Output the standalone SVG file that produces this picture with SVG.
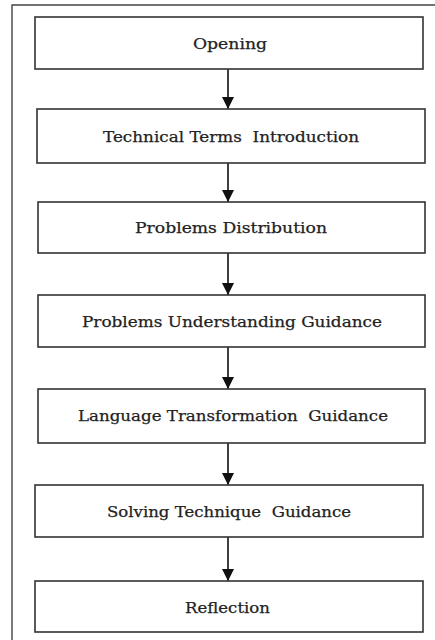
<svg xmlns="http://www.w3.org/2000/svg" width="435" height="640" viewBox="0 0 435 640">
<style>
.box{fill:#fff;stroke:#333;stroke-width:1.6}
.lbl{font-family:'DejaVu Serif','Liberation Serif',serif;font-size:15.5px;fill:#222;stroke:#222;stroke-width:0.25;text-anchor:middle}
.conn{stroke:#111;stroke-width:1.6;fill:none}
.frame{stroke:#444;stroke-width:1.4;fill:none}
</style>
<defs>
<marker id="ah" markerWidth="12" markerHeight="12" refX="12" refY="6" orient="auto" markerUnits="userSpaceOnUse">
<path d="M0,0 L12,6 L0,12 Z" fill="#111"/>
</marker>
</defs>
<rect width="435" height="640" fill="#fff"/>
<path class="frame" d="M12,640 V5 H435"/>
<g id="connectors">
<line class="conn" x1="228" y1="69" x2="228" y2="109" marker-end="url(#ah)"/>
<line class="conn" x1="228" y1="163" x2="228" y2="202" marker-end="url(#ah)"/>
<line class="conn" x1="228" y1="253" x2="228" y2="295" marker-end="url(#ah)"/>
<line class="conn" x1="228" y1="347" x2="228" y2="389" marker-end="url(#ah)"/>
<line class="conn" x1="228" y1="443" x2="228" y2="485" marker-end="url(#ah)"/>
<line class="conn" x1="228" y1="537" x2="228" y2="581" marker-end="url(#ah)"/>
</g>
<g id="n1"><rect class="box" x="35" y="17" width="388" height="52"/><text class="lbl" x="230" y="48.5" textLength="74" lengthAdjust="spacingAndGlyphs">Opening</text></g>
<g id="n2"><rect class="box" x="37" y="109" width="388" height="54"/><text class="lbl" x="231" y="142" textLength="256" lengthAdjust="spacingAndGlyphs" xml:space="preserve">Technical Terms  Introduction</text></g>
<g id="n3"><rect class="box" x="38" y="202" width="387" height="51"/><text class="lbl" x="231" y="233" textLength="192" lengthAdjust="spacingAndGlyphs">Problems Distribution</text></g>
<g id="n4"><rect class="box" x="38" y="295" width="387" height="52"/><text class="lbl" x="232" y="326.5" textLength="300" lengthAdjust="spacingAndGlyphs">Problems Understanding Guidance</text></g>
<g id="n5"><rect class="box" x="38" y="389" width="387" height="54"/><text class="lbl" x="233" y="421" textLength="310" lengthAdjust="spacingAndGlyphs" xml:space="preserve">Language Transformation  Guidance</text></g>
<g id="n6"><rect class="box" x="35" y="485" width="388" height="52"/><text class="lbl" x="229" y="517" textLength="244" lengthAdjust="spacingAndGlyphs" xml:space="preserve">Solving Technique  Guidance</text></g>
<g id="n7"><rect class="box" x="35" y="581" width="388" height="51"/><text class="lbl" x="227.5" y="612.5" textLength="85" lengthAdjust="spacingAndGlyphs">Reflection</text></g>
</svg>
